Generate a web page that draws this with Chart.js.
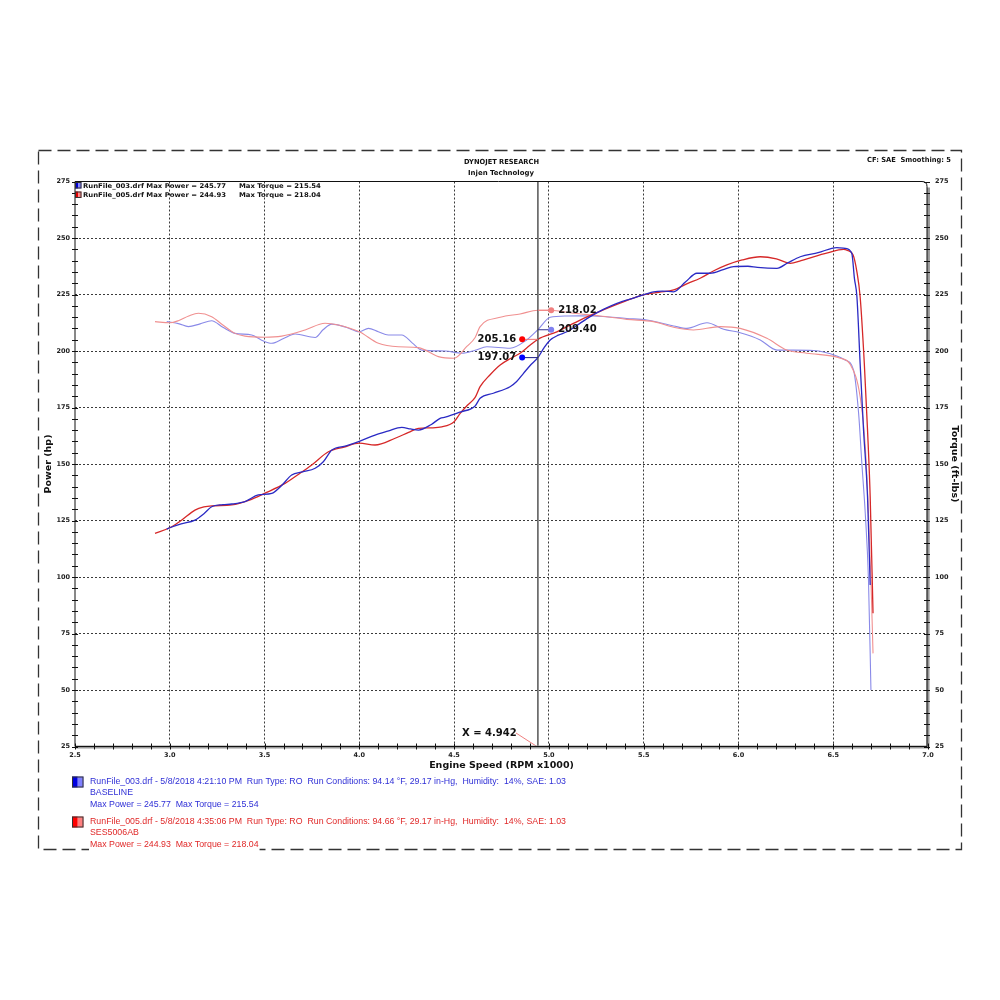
<!DOCTYPE html>
<html><head><meta charset="utf-8">
<script src="https://cdn.jsdelivr.net/npm/chart.js@4.4.1/dist/chart.umd.min.js"></script>
<style>html,body{margin:0;padding:0;background:#fff;}canvas{display:block;}</style>
</head><body>
<div style="width:1000px;height:1000px;position:relative"><canvas id="c" width="1000" height="1000"></canvas></div>
<script>
// ---------- data ----------
const xTickLabels = [2.5, 3.0, 3.5, 4.0, 4.5, 5.0, 5.5, 6.0, 6.5, 7.0];
const yTickLabels = [25, 50, 75, 100, 125, 150, 175, 200, 225, 250, 275];

const bluePowerRpm = [2.984,3.0,3.06,3.133,3.18,3.221,3.28,3.327,3.40,3.467,3.538,3.59,3.643,3.70,3.767,3.81,3.855,3.93,4.0,4.083,4.15,4.224,4.27,4.312,4.38,4.426,4.453,4.532,4.611,4.637,4.707,4.795,4.83,4.866,4.90,4.942,4.975,5.007,5.05,5.095,5.16,5.218,5.29,5.359,5.45,5.552,5.60,5.658,5.72,5.781,5.85,5.92,5.974,6.05,6.10,6.203,6.26,6.326,6.42,6.519,6.563,6.598,6.612,6.625,6.642,6.660,6.681,6.695];
const bluePowerHp  = [121.2,121.8,123.5,125.2,128.0,131.1,132.0,132.3,133.5,136.3,137.0,140.5,145.1,146.5,148.1,151.0,156.2,158.0,160.0,162.8,164.5,166.2,165.5,165.0,167.5,170.2,170.7,173.0,175.7,179.1,181.3,184.2,186.5,190.1,193.5,197.07,201.5,204.9,207.0,208.5,212.0,215.2,218.5,221.1,223.5,226.2,226.5,226.2,230.5,234.4,234.4,236.0,237.3,237.5,237.0,236.6,239.0,241.7,243.5,245.77,245.4,243.2,232.0,224.0,194.5,165.0,135.5,96.5];

const redPowerRpm = [2.922,3.0,3.06,3.133,3.18,3.221,3.327,3.42,3.5,3.608,3.68,3.749,3.837,3.92,4.0,4.083,4.189,4.26,4.312,4.38,4.435,4.5,4.532,4.57,4.611,4.637,4.69,4.743,4.80,4.848,4.90,4.942,5.042,5.10,5.165,5.24,5.306,5.40,5.499,5.58,5.658,5.73,5.798,5.87,5.939,6.02,6.115,6.20,6.273,6.33,6.396,6.47,6.554,6.575,6.605,6.625,6.642,6.664,6.681,6.695,6.710];
const redPowerHp  = [119.3,121.8,125.0,129.6,131.0,131.5,131.9,134.0,137.0,141.4,145.5,149.6,155.4,157.5,159.2,158.4,161.4,164.0,165.8,166.0,166.4,168.7,172.4,176.0,179.5,184.2,189.5,193.8,196.8,199.0,202.5,205.16,208.5,211.0,213.7,216.5,218.9,222.0,224.8,226.0,227.0,229.8,232.2,235.5,238.1,240.3,241.7,240.8,238.8,240.0,241.7,243.4,244.93,244.5,242.5,235.0,224.0,194.5,165.0,135.5,84.0];

const blueTorqueRpm = [2.984,3.05,3.098,3.16,3.221,3.28,3.344,3.432,3.48,3.538,3.60,3.661,3.767,3.81,3.855,3.93,4.0,4.048,4.10,4.153,4.224,4.28,4.33,4.453,4.541,4.611,4.673,4.795,4.883,4.942,5.007,5.095,5.16,5.235,5.411,5.517,5.658,5.728,5.834,5.922,6.009,6.115,6.203,6.29,6.396,6.519,6.563,6.607,6.634,6.651,6.669,6.686,6.699];
const blueTorqueFtLb = [213.0,212.0,210.8,212.0,213.4,210.5,207.8,207.1,205.0,203.4,205.5,207.5,206.0,209.5,211.9,210.5,208.5,210.0,208.5,207.1,207.1,203.5,200.4,200.0,199.0,200.3,201.9,201.2,204.9,209.40,214.9,215.5,215.54,215.5,214.4,213.7,211.1,210.0,212.5,209.6,208.1,204.9,200.4,200.4,200.2,197.8,196.0,191.6,172.4,150.3,128.2,98.7,50.0];

const redTorqueRpm = [2.922,3.0,3.045,3.10,3.151,3.221,3.28,3.344,3.397,3.5,3.591,3.714,3.819,3.889,4.0,4.101,4.206,4.312,4.417,4.5,4.567,4.611,4.637,4.743,4.848,4.942,5.007,5.13,5.27,5.411,5.552,5.658,5.763,5.904,6.009,6.15,6.255,6.361,6.537,6.59,6.642,6.669,6.686,6.699,6.710];
const redTorqueFtLb = [213.0,212.5,213.4,215.5,216.7,215.2,211.5,207.8,206.6,206.1,206.6,209.3,212.3,211.5,208.5,203.4,201.9,201.5,197.5,196.8,202.0,206.0,210.8,214.9,216.4,218.02,218.04,216.7,215.5,214.0,213.0,210.5,209.3,210.8,210.0,205.6,200.4,199.0,196.8,194.0,179.8,157.7,128.2,98.7,66.2];

const cursorRpm = 4.942;
const cursorLabels = ['197.07', '205.16', '209.40', '218.02'];
const cursorValues = [197.07, 205.16, 209.40, 218.02];

const legendTopLines = ['RunFile_003.drf Max Power = 245.77', 'RunFile_005.drf Max Power = 244.93'];
const legendTopTorque = ['Max Torque = 215.54', 'Max Torque = 218.04'];
const runInfo = [
  ['RunFile_003.drf - 5/8/2018 4:21:10 PM  Run Type: RO  Run Conditions: 94.14 \u00B0F, 29.17 in-Hg,  Humidity:  14%, SAE: 1.03', 'BASELINE', 'Max Power = 245.77  Max Torque = 215.54'],
  ['RunFile_005.drf - 5/8/2018 4:35:06 PM  Run Type: RO  Run Conditions: 94.66 \u00B0F, 29.17 in-Hg,  Humidity:  14%, SAE: 1.03', 'SES5006AB', 'Max Power = 244.93  Max Torque = 218.04']
];

// ---------- styles ----------
const C_BLUE = '#2a2ac4', C_RED = '#d62828', C_LBLUE = '#8a8ae8', C_PINK = '#f09090';
const pts = (xs, ys) => xs.map((x, i) => ({x: x, y: ys[i]}));
function ds(xs, ys, color, axis, order, w) {
  return {data: pts(xs, ys), borderColor: color, borderWidth: w, pointRadius: 0, fill: false,
          cubicInterpolationMode: 'monotone', yAxisID: axis, order: order};
}

function txt(ctx, s, x, y, font, color, align, sx, bg) {
  ctx.save(); ctx.font = font; ctx.textBaseline = 'middle';
  ctx.textAlign = align || 'left';
  ctx.translate(x, y); ctx.scale(sx || 1, 1);
  if (bg) { const w = ctx.measureText(s).width; ctx.fillStyle = bg; ctx.fillRect(-1, -6, w + 2, 12); }
  ctx.fillStyle = color; ctx.fillText(s, 0, 0); ctx.restore();
}
function fitScale(ctx, s, font, w) { ctx.save(); ctx.font = font; const m = ctx.measureText(s).width; ctx.restore(); return w / m; }
function icon(ctx, x, y, w, h, dark, light) {
  ctx.save();
  ctx.fillStyle = dark; ctx.fillRect(x, y, w / 2, h);
  ctx.fillStyle = light; ctx.fillRect(x + w / 2, y, w / 2, h);
  ctx.strokeStyle = '#333'; ctx.lineWidth = 1; ctx.strokeRect(x + 0.5, y + 0.5, w - 1, h - 1);
  ctx.restore();
}

const decor = {
  id: 'decor',
  beforeDraw(chart) {
    const ctx = chart.ctx;
    ctx.save(); ctx.fillStyle = '#fff'; ctx.fillRect(0, 0, chart.width, chart.height);
    ctx.strokeStyle = '#333'; ctx.lineWidth = 1.3; ctx.setLineDash([13, 6]);
    ctx.strokeRect(38.5, 150.5, 923, 699);
    ctx.restore();
  },
  afterDatasetsDraw(chart) {
    const ctx = chart.ctx, xs = chart.scales.x, ys = chart.scales.y, a = chart.chartArea;
    const cx = xs.getPixelForValue(cursorRpm);
    ctx.save();
    ctx.strokeStyle = '#555'; ctx.lineWidth = 1.5;
    ctx.beginPath(); ctx.moveTo(cx, a.top); ctx.lineTo(cx, a.bottom); ctx.stroke();
    const lx = xs.getPixelForValue(4.859), rx = xs.getPixelForValue(5.012);
    const mk = [[lx, '#1a1a80', '#0000ff'], [lx, '#f07070', '#ff0000'], [rx, '#303090', '#8080f0'], [rx, '#f08080', '#f08080']];
    const font = 'bold 10px "DejaVu Sans"';
    cursorValues.forEach((v, i) => {
      const py = ys.getPixelForValue(v), m = mk[i];
      ctx.strokeStyle = m[1]; ctx.lineWidth = 1;
      ctx.beginPath(); ctx.moveTo(m[0], py); ctx.lineTo(cx, py); ctx.stroke();
      ctx.fillStyle = m[2]; ctx.beginPath(); ctx.arc(m[0], py, 3, 0, Math.PI * 2); ctx.fill();
      if (m[0] < cx) txt(ctx, cursorLabels[i], m[0] - 6, py, font, '#111', 'right');
      else txt(ctx, cursorLabels[i], m[0] + 7, py, font, '#111', 'left');
    });
    txt(ctx, 'X = ' + cursorRpm.toFixed(3), 462, 733, font, '#111', 'left');
    ctx.strokeStyle = '#f08080'; ctx.lineWidth = 1;
    ctx.beginPath(); ctx.moveTo(516, 733); ctx.lineTo(cx - 1, a.bottom); ctx.stroke();
    ctx.restore();
  },
  afterDraw(chart) {
    const ctx = chart.ctx, xs = chart.scales.x, ys = chart.scales.y, a = chart.chartArea;
    ctx.save();
    ctx.strokeStyle = '#9a9a9a'; ctx.lineWidth = 3;
    ctx.beginPath(); ctx.moveTo(a.left, a.bottom + 0.5); ctx.lineTo(a.right, a.bottom + 0.5); ctx.lineTo(a.right + 0.5, a.top + 6); ctx.stroke();
    ctx.strokeStyle = '#111'; ctx.lineWidth = 1;
    ctx.beginPath(); ctx.moveTo(a.left, a.top); ctx.lineTo(a.left, a.bottom); ctx.lineTo(a.right - 1, a.bottom);
    ctx.lineTo(a.right - 1, a.top + 5); ctx.quadraticCurveTo(a.right - 1, a.top, a.right - 6, a.top); ctx.lineTo(a.left, a.top); ctx.stroke();
    ctx.beginPath();
    for (let v = 25; v <= 275; v += 5) {
      const py = Math.round(ys.getPixelForValue(v)) + 0.5;
      ctx.moveTo(a.left - 3, py); ctx.lineTo(a.left + 3, py);
      ctx.moveTo(a.right - 4, py); ctx.lineTo(a.right + 2, py);
    }
    for (let k = 25; k <= 70; k++) {
      const px = Math.round(xs.getPixelForValue(k / 10)) + 0.5;
      ctx.moveTo(px, a.bottom - 3); ctx.lineTo(px, a.bottom + 3);
    }
    ctx.stroke();
    const hf = 'bold 7px "DejaVu Sans"';
    txt(ctx, 'DYNOJET RESEARCH', 501.5, 162, hf, '#111', 'center', fitScale(ctx, 'DYNOJET RESEARCH', hf, 75));
    txt(ctx, 'Injen Technology', 501, 173, hf, '#111', 'center', fitScale(ctx, 'Injen Technology', hf, 66));
    txt(ctx, 'CF: SAE  Smoothing: 5', 951, 160, hf, '#111', 'right', fitScale(ctx, 'CF: SAE  Smoothing: 5', hf, 84));
    const lf = 'bold 6.5px "DejaVu Sans"';
    const ls = fitScale(ctx, legendTopLines[0], lf, 143);
    icon(ctx, 75, 182, 6.5, 6.5, '#0000d0', '#8080ff');
    icon(ctx, 75, 191.5, 6.5, 6.5, '#e00000', '#ff8080');
    [186, 195].forEach((y, i) => {
      txt(ctx, legendTopLines[i], 83, y, lf, '#111', 'left', ls);
      txt(ctx, legendTopTorque[i], 239, y, lf, '#111', 'left', ls);
    });
    const bf = '9px "Liberation Sans"';
    const bs = fitScale(ctx, runInfo[0][0], bf, 476);
    icon(ctx, 72, 776.5, 11.5, 11, '#0000e0', '#8080ff');
    icon(ctx, 72, 816.5, 11.5, 11, '#ff0000', '#ff8080');
    const cols = ['#2f2fd6', '#e02828'];
    [[782, 793, 804.5], [822, 833, 845]].forEach((ys2, i) => {
      ys2.forEach((y, j) => txt(ctx, runInfo[i][j], 90, y, bf, cols[i], 'left', bs, '#fff'));
    });
    ctx.restore();
  }
};

const axisFont = {family: 'DejaVu Sans', weight: 'bold', size: 6.5};
const titleFont = {family: 'DejaVu Sans', weight: 'bold', size: 9.5};
const edgeHide = (lo, hi) => (c) => (c.tick && (Math.abs(c.tick.value - lo) < 1e-6 || Math.abs(c.tick.value - hi) < 1e-6)) ? 'rgba(0,0,0,0)' : '#3a3a3a';

new Chart(document.getElementById('c'), {
  type: 'line',
  data: {datasets: [
    ds(blueTorqueRpm, blueTorqueFtLb, C_LBLUE, 'y2', 4, 1.1),
    ds(redTorqueRpm, redTorqueFtLb, C_PINK, 'y2', 3, 1.1),
    ds(redPowerRpm, redPowerHp, C_RED, 'y', 2, 1.3),
    ds(bluePowerRpm, bluePowerHp, C_BLUE, 'y', 1, 1.3)
  ]},
  options: {
    responsive: false, animation: false, devicePixelRatio: 1,
    layout: {padding: {top: 181.5, left: 0, right: 0, bottom: 0}},
    plugins: {legend: {display: false}, tooltip: {enabled: false}},
    scales: {
      x: {type: 'linear', position: 'bottom', min: 2.5, max: 7.0,
        afterBuildTicks: s => { s.ticks = xTickLabels.map(v => ({value: v})); },
        ticks: {callback: v => Number(v).toFixed(1), font: axisFont, color: '#222', padding: 5, maxRotation: 0, minRotation: 0, autoSkip: false},
        grid: {color: edgeHide(2.5, 7.0), lineWidth: 1, drawTicks: false},
        border: {display: false, dash: [2, 2]},
        title: {display: true, text: 'Engine Speed (RPM x1000)', font: titleFont, color: '#111', padding: {top: 0, bottom: 229}},
        afterFit: s => { s.height = 253.5; }
      },
      y: {type: 'linear', position: 'left', min: 25, max: 275,
        afterBuildTicks: s => { s.ticks = yTickLabels.map(v => ({value: v})); },
        ticks: {font: axisFont, color: '#222', padding: 5},
        grid: {color: edgeHide(25, 275), lineWidth: 1, drawTicks: false},
        border: {display: false, dash: [2, 2]},
        title: {display: true, text: 'Power (hp)', font: titleFont, color: '#111', padding: {top: 43, bottom: 0}},
        afterFit: s => { s.width = 75; }
      },
      y2: {type: 'linear', position: 'right', min: 25, max: 275,
        afterBuildTicks: s => { s.ticks = yTickLabels.map(v => ({value: v})); },
        ticks: {font: axisFont, color: '#222', padding: 7},
        grid: {drawOnChartArea: false, drawTicks: false},
        border: {display: false},
        title: {display: true, text: 'Torque (ft-lbs)', font: titleFont, color: '#111', padding: {top: 40, bottom: 0}},
        afterFit: s => { s.width = 72; }
      }
    }
  },
  plugins: [decor]
});
</script>
</body></html>
